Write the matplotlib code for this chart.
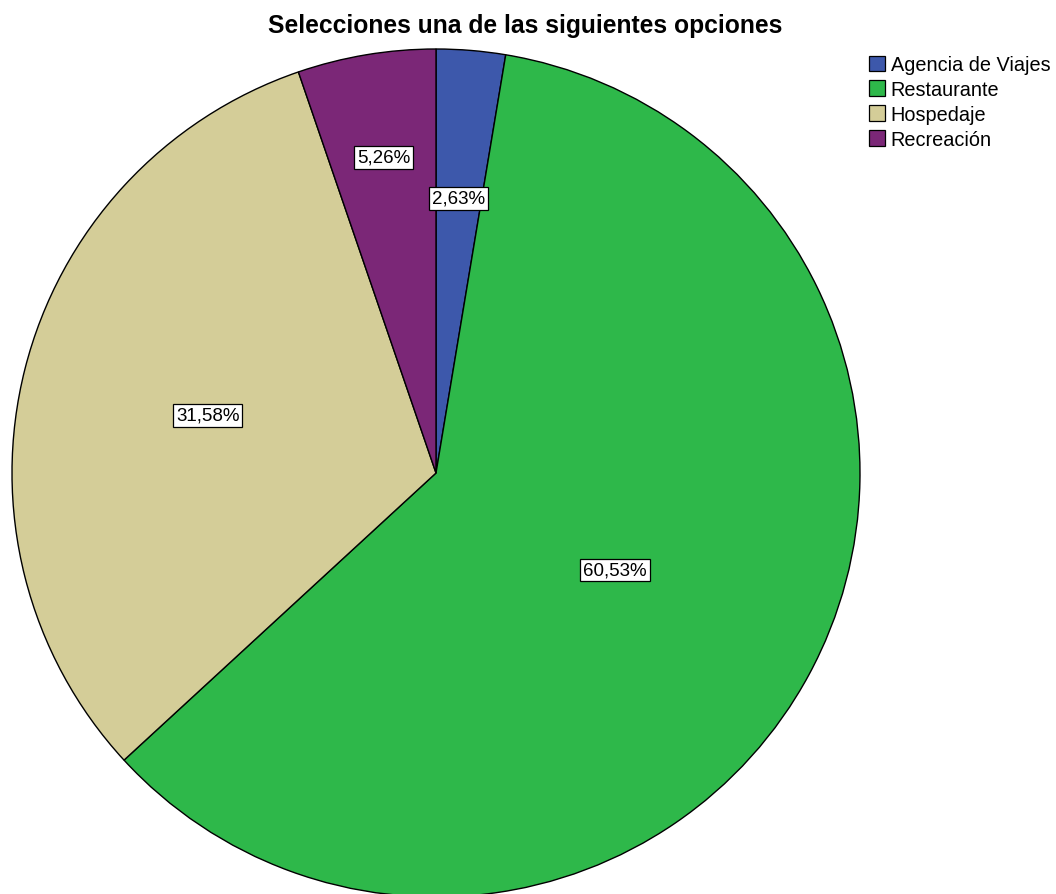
import matplotlib
matplotlib.use("Agg")
import matplotlib.pyplot as plt
import numpy as np
from matplotlib.patches import Patch

plt.rcParams['font.family'] = ['Liberation Sans', 'DejaVu Sans']

categories = ["Agencia de Viajes", "Restaurante", "Hospedaje", "Recreación"]
percentages = [2.63, 60.53, 31.58, 5.26]
labels = ["2,63%", "60,53%", "31,58%", "5,26%"]
colors = ["#3D58AB", "#2EB84A", "#D4CD98", "#7B2777"]
label_dist = [0.65, 0.48, 0.555, 0.755]

W, H = 1056, 895
fig = plt.figure(figsize=(W/100, H/100), dpi=100)
R = 424
cx, cy = 436, 474
ax = fig.add_axes([(cx-R)/W, (H-cy-R)/H, 2*R/W, 2*R/H])

wedges, _ = ax.pie(percentages, colors=colors, startangle=90, counterclock=False,
                   radius=1, wedgeprops=dict(edgecolor='black', linewidth=1.0))
ax.set_xlim(-1, 1)
ax.set_ylim(-1, 1)
ax.set_aspect('equal')
ax.axis('off')
for w in wedges:
    w.set_clip_on(False)
for w, lab, d in zip(wedges, labels, label_dist):
    mid = np.deg2rad((w.theta1 + w.theta2) / 2)
    ax.text(d*np.cos(mid), d*np.sin(mid), lab, ha='center', va='center', fontsize=13.5,
            bbox=dict(boxstyle='square,pad=0.15', facecolor='white', edgecolor='black', linewidth=0.9))

fig.text(525/W, 1-26/H, "Selecciones una de las siguientes opciones", ha='center', va='center',
         fontsize=17.7, fontweight='bold')

handles = [Patch(facecolor=c, edgecolor='black', linewidth=0.9) for c in colors]
fig.legend(handles, categories, loc='upper left', bbox_to_anchor=(869/W, 1-56/H), frameon=False,
           fontsize=14.3, handlelength=0.8, handleheight=0.8, handletextpad=0.3, labelspacing=0.3,
           borderpad=0, borderaxespad=0)

fig.savefig("out.png", dpi=100)
